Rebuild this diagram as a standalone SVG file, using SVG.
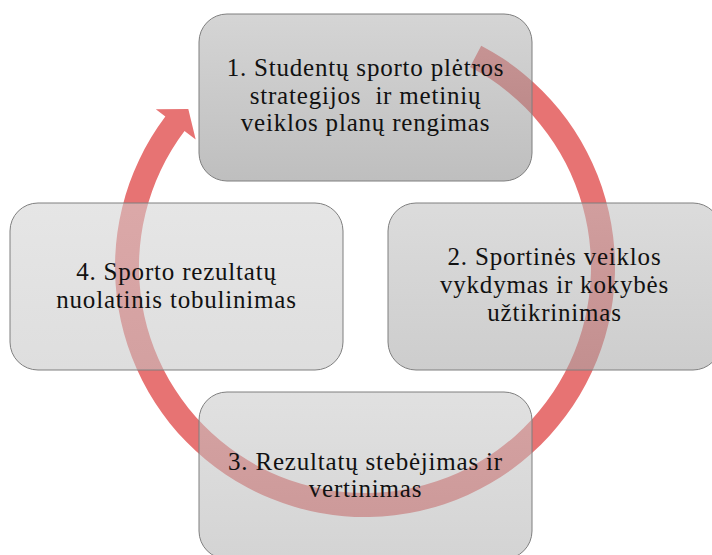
<svg xmlns="http://www.w3.org/2000/svg" width="712" height="555" viewBox="0 0 712 555">
<defs>
<linearGradient id="g1" x1="0" y1="0" x2="0" y2="1"><stop offset="0" stop-color="#B4B4B4"/><stop offset="1" stop-color="#8C8C8C"/></linearGradient>
<linearGradient id="g2" x1="0" y1="0" x2="0" y2="1"><stop offset="0" stop-color="#C0C0C0"/><stop offset="1" stop-color="#A6A6A6"/></linearGradient>
<linearGradient id="g3" x1="0" y1="0" x2="0" y2="1"><stop offset="0" stop-color="#C9C9C9"/><stop offset="1" stop-color="#B2B2B2"/></linearGradient>
<linearGradient id="g4" x1="0" y1="0" x2="0" y2="1"><stop offset="0" stop-color="#D2D2D2"/><stop offset="1" stop-color="#C4C4C4"/></linearGradient>
<style>
.box{fill-opacity:0.56;stroke:#7F7F7F;stroke-width:1}
.lbl{font-family:'Liberation Serif','DejaVu Serif','Noto Serif','Times New Roman',serif;font-size:25px;letter-spacing:0.8px;fill:#111;text-anchor:middle}
.arrow{fill:#E77373;stroke:none}
</style>
</defs>
<g id="connectors">
<path class="arrow" d="M481.2,45.65 A250,250 0 1 1 165.35,116.55 L155.8,109.3 L188.3,109 L195.7,139.4 L184.5,131 A226,226 0 1 0 470,66.9 Z"/>
</g>
<g id="node1">
<rect class="box" x="199" y="14" width="333" height="167" rx="28" ry="28" fill="url(#g1)"/>
<text class="lbl" x="365.5" y="76" font-family="Liberation Serif, serif">1. Studentų sporto plėtros</text>
<text class="lbl" x="365.5" y="104" xml:space="preserve" font-family="Liberation Serif, serif">strategijos  ir metinių</text>
<text class="lbl" x="365.5" y="131" font-family="Liberation Serif, serif">veiklos planų rengimas</text>
</g>
<g id="node2">
<rect class="box" x="388" y="203" width="333" height="167" rx="28" ry="28" fill="url(#g2)"/>
<text class="lbl" x="554.5" y="265">2. Sportinės veiklos</text>
<text class="lbl" x="554.5" y="293">vykdymas ir kokybės</text>
<text class="lbl" x="554.5" y="321">užtikrinimas</text>
</g>
<g id="node3">
<rect class="box" x="199" y="392" width="333" height="167" rx="28" ry="28" fill="url(#g3)"/>
<text class="lbl" x="365.5" y="470">3. Rezultatų stebėjimas ir</text>
<text class="lbl" x="365.5" y="497">vertinimas</text>
</g>
<g id="node4">
<rect class="box" x="10" y="203" width="333" height="167" rx="28" ry="28" fill="url(#g4)"/>
<text class="lbl" x="176.5" y="280">4. Sporto rezultatų</text>
<text class="lbl" x="176.5" y="308">nuolatinis tobulinimas</text>
</g>
</svg>
